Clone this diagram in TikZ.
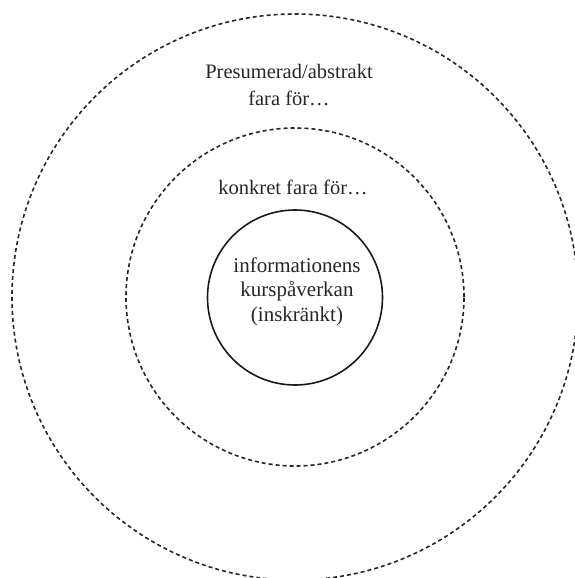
\documentclass[tikz,border=0pt]{standalone}
\usepackage{fontspec}
\setmainfont{Liberation Serif}
\begin{document}
\begin{tikzpicture}[x=1pt,y=-1pt,
  ring/.style={circle, draw=black!85, line width=1.6pt, dash pattern=on 4pt off 3pt, inner sep=0pt},
  core/.style={circle, draw=black!90, line width=1.6pt, inner sep=0pt},
  lbl/.style={font=\fontsize{20.5}{27}\selectfont, text=black!85, align=center, inner sep=0pt}]
\useasboundingbox (0,0) rectangle (574,578);
\node[ring, minimum size=566pt] (outer) at (295,297) {};
\node[ring, minimum size=338pt] (middle) at (295,297) {};
\node[core, minimum size=175pt] (inner) at (295,297.5) {};
\node[lbl, anchor=base] (outerlbl) at (289,105) {Presumerad/abstrakt\\fara för…};
\node[lbl, anchor=base] (midlbl) at (293,194) {konkret fara för…};
\node[lbl, font=\fontsize{21}{24.5}\selectfont, anchor=base] (corelbl) at (297,321) {informationens\\kurspåverkan\\(inskränkt)};
\end{tikzpicture}
\end{document}
